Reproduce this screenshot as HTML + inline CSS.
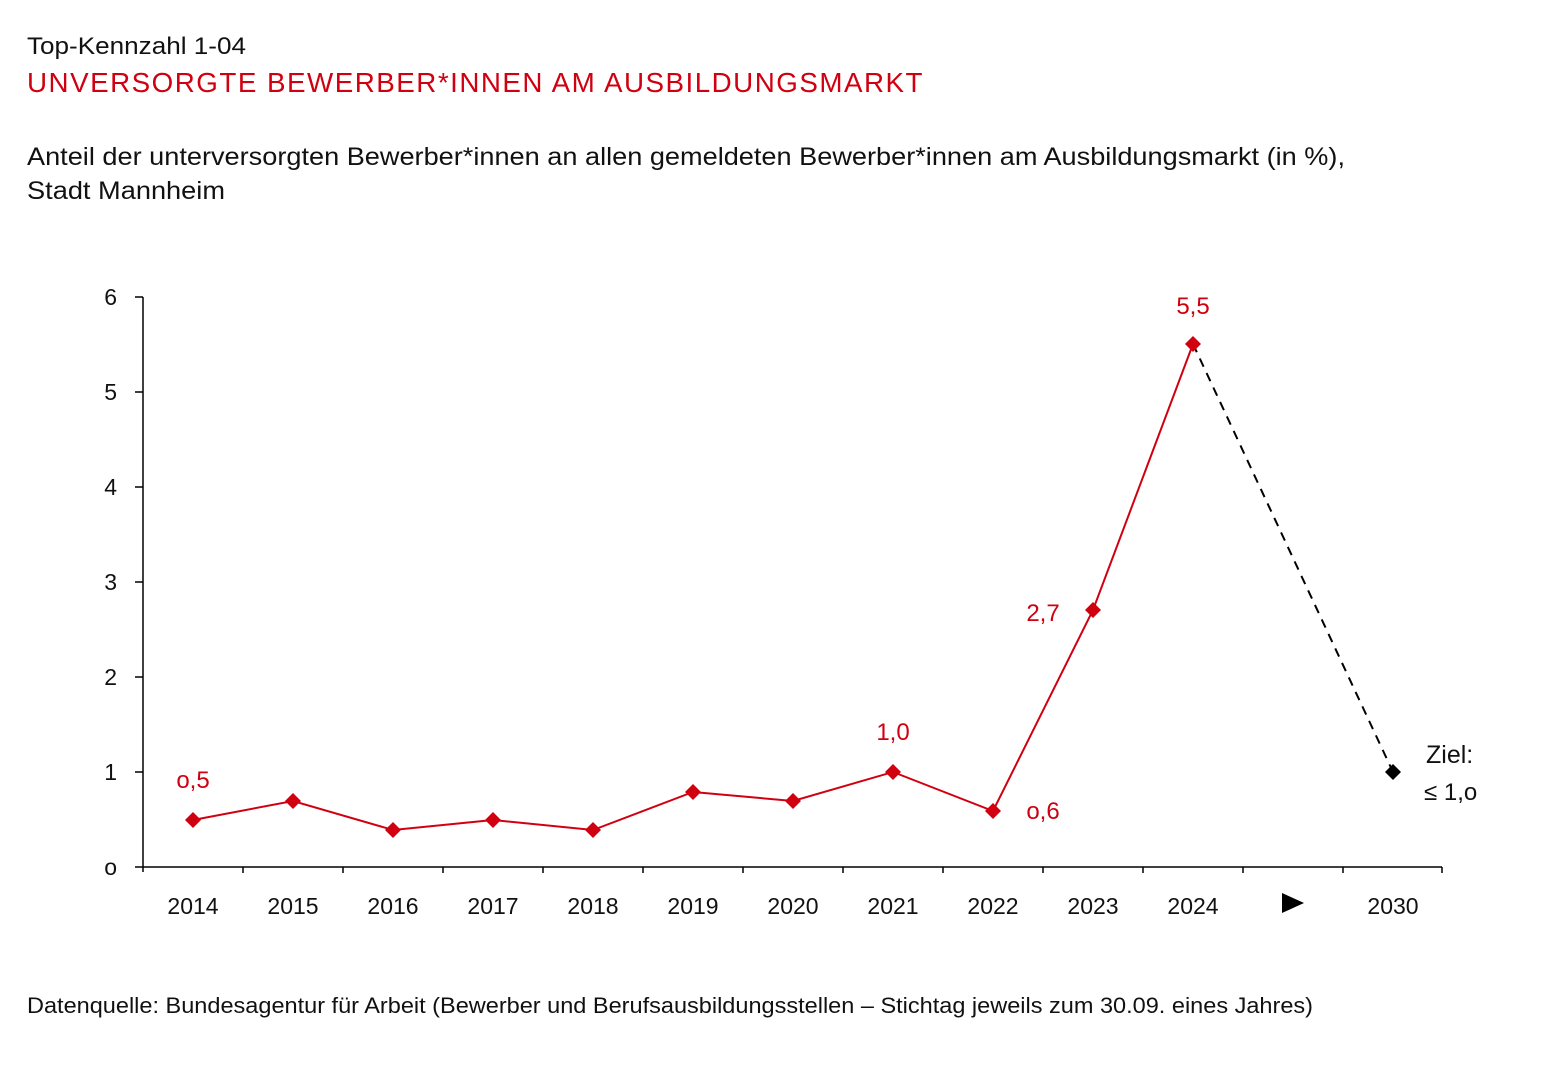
<!DOCTYPE html>
<html><head><meta charset="utf-8"><style>
body{margin:0;background:#fff;width:1542px;height:1080px;overflow:hidden;font-family:"Liberation Sans",sans-serif;}
</style></head><body>
<svg width="1542" height="1080" xmlns="http://www.w3.org/2000/svg" font-family="Liberation Sans, sans-serif">
<text x="27" y="54" font-size="24" fill="#111" textLength="219" lengthAdjust="spacingAndGlyphs">Top-Kennzahl 1-04</text>
<text x="27" y="92" font-size="28" fill="#d00010" letter-spacing="1.5" textLength="897" lengthAdjust="spacingAndGlyphs">UNVERSORGTE BEWERBER*INNEN AM AUSBILDUNGSMARKT</text>
<text x="27" y="165" font-size="25" fill="#111" textLength="1318" lengthAdjust="spacingAndGlyphs">Anteil der unterversorgten Bewerber*innen an allen gemeldeten Bewerber*innen am Ausbildungsmarkt (in %),</text>
<text x="27" y="199" font-size="25" fill="#111" textLength="198" lengthAdjust="spacingAndGlyphs">Stadt Mannheim</text>
<g stroke="#000" stroke-width="1.5">
<line x1="143" y1="297" x2="143" y2="872"/>
<line x1="143" y1="867" x2="1442" y2="867"/>
<line x1="135" y1="297" x2="143" y2="297"/><line x1="135" y1="392" x2="143" y2="392"/><line x1="135" y1="487" x2="143" y2="487"/><line x1="135" y1="582" x2="143" y2="582"/><line x1="135" y1="677" x2="143" y2="677"/><line x1="135" y1="772" x2="143" y2="772"/><line x1="135" y1="867" x2="143" y2="867"/>
<line x1="243" y1="867" x2="243" y2="873"/><line x1="343" y1="867" x2="343" y2="873"/><line x1="443" y1="867" x2="443" y2="873"/><line x1="543" y1="867" x2="543" y2="873"/><line x1="643" y1="867" x2="643" y2="873"/><line x1="743" y1="867" x2="743" y2="873"/><line x1="843" y1="867" x2="843" y2="873"/><line x1="943" y1="867" x2="943" y2="873"/><line x1="1043" y1="867" x2="1043" y2="873"/><line x1="1143" y1="867" x2="1143" y2="873"/><line x1="1243" y1="867" x2="1243" y2="873"/><line x1="1343" y1="867" x2="1343" y2="873"/><line x1="1442" y1="867" x2="1442" y2="873"/>
</g>
<g font-size="23" fill="#111" text-anchor="end">
<text x="117" y="305">6</text><text x="117" y="400">5</text><text x="117" y="495">4</text><text x="117" y="590">3</text><text x="117" y="685">2</text><text x="117" y="780">1</text><text x="117" y="875">o</text>
</g>
<g font-size="23" fill="#111" text-anchor="middle">
<text x="193" y="914">2014</text><text x="293" y="914">2015</text><text x="393" y="914">2016</text><text x="493" y="914">2017</text><text x="593" y="914">2018</text><text x="693" y="914">2019</text><text x="793" y="914">2020</text><text x="893" y="914">2021</text><text x="993" y="914">2022</text><text x="1093" y="914">2023</text><text x="1193" y="914">2024</text><text x="1393" y="914">2030</text>
</g>
<polygon points="1282,893 1304,903 1282,913" fill="#000"/>
<line x1="1193" y1="344" x2="1393" y2="772" stroke="#000" stroke-width="2" stroke-dasharray="9,7"/>
<polyline points="193,820 293,801 393,830 493,820 593,830 693,792 793,801 893,772 993,811 1093,610 1193,344" fill="none" stroke="#d00010" stroke-width="2"/>
<g fill="#d00010">
<path d="M193,812l8,8-8,8-8-8z"/><path d="M293,793l8,8-8,8-8-8z"/><path d="M393,822l8,8-8,8-8-8z"/><path d="M493,812l8,8-8,8-8-8z"/><path d="M593,822l8,8-8,8-8-8z"/><path d="M693,784l8,8-8,8-8-8z"/><path d="M793,793l8,8-8,8-8-8z"/><path d="M893,764l8,8-8,8-8-8z"/><path d="M993,803l8,8-8,8-8-8z"/><path d="M1093,602l8,8-8,8-8-8z"/><path d="M1193,336l8,8-8,8-8-8z"/>
</g>
<path d="M1393,764l8,8-8,8-8-8z" fill="#000"/>
<g font-size="24" fill="#d00010" text-anchor="middle">
<text x="193" y="788">o,5</text><text x="893" y="740">1,0</text><text x="1043" y="819">o,6</text><text x="1043" y="621">2,7</text><text x="1193" y="314">5,5</text>
</g>
<text x="1426" y="763" font-size="25" fill="#111">Ziel:</text>
<text x="1424" y="800" font-size="24" fill="#111">≤ 1,o</text>
<text x="27" y="1013" font-size="22" fill="#111" textLength="1286" lengthAdjust="spacingAndGlyphs">Datenquelle: Bundesagentur für Arbeit (Bewerber und Berufsausbildungsstellen – Stichtag jeweils zum 30.09. eines Jahres)</text>
</svg>
</body></html>
